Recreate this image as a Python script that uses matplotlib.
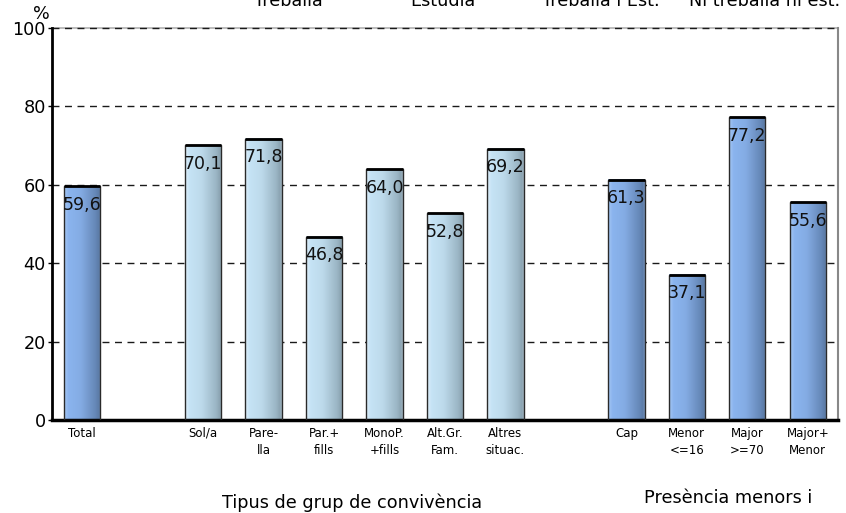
import numpy as np
import matplotlib.pyplot as plt
from matplotlib.colors import LinearSegmentedColormap

# categories and values
categories = ["Total", "Sol/a", "Pare-\nlla", "Par.+\nfills", "MonoP.\n+fills",
              "Alt.Gr.\nFam.", "Altres\nsituac.", "Cap", "Menor\n<=16",
              "Major\n>=70", "Major+\nMenor"]
groups = ["total", "conv", "conv", "conv", "conv", "conv", "conv",
          "menors", "menors", "menors", "menors"]
values = [59.6, 70.1, 71.8, 46.8, 64.0, 52.8, 69.2, 61.3, 37.1, 77.2, 55.6]

top_labels = ["Treballa", "Estudia", "Treballa i Est.", "Ni treballa ni est."]
group_titles = ["Tipus de grup de convivència", "Presència menors i"]
yticks = [0, 20, 40, 60, 80, 100]

# one empty slot between groups
positions = []
slot = 0
for i, grp in enumerate(groups):
    if i > 0 and grp != groups[i - 1]:
        slot += 1
    positions.append(slot)
    slot += 1

cmaps = {
    "blue": LinearSegmentedColormap.from_list(
        "blue", [(0.0, "#a9c9f3"), (0.12, "#8ab4ee"), (0.45, "#84ace4"),
                 (0.85, "#6688b8"), (0.95, "#5a7aa6"), (1.0, "#7f9cc4")]),
    "light": LinearSegmentedColormap.from_list(
        "light", [(0.0, "#e0f0fa"), (0.12, "#c5e3f5"), (0.45, "#bddaeb"),
                  (0.85, "#9ab5c4"), (0.95, "#8aa2b0"), (1.0, "#a8bcc8")]),
}
group_cmap = {"total": "blue", "conv": "light", "menors": "blue"}

fig = plt.figure(figsize=(8.46, 5.13), dpi=100)
ax = fig.add_axes([52 / 846, 93 / 513, 786 / 846, 392 / 513])

bars = ax.bar(positions, values, width=0.6, facecolor="none",
              edgecolor="#2a2a2a", linewidth=1, zorder=3)
grad = np.linspace(0, 1, 256).reshape(1, -1)
for bar, grp, val in zip(bars, groups, values):
    x0 = bar.get_x()
    x1 = x0 + bar.get_width()
    ax.imshow(grad, cmap=cmaps[group_cmap[grp]], extent=[x0, x1, 0, val],
              aspect="auto", interpolation="bicubic", zorder=2)
    ax.plot([x0, x1], [val, val], color="black", linewidth=2, zorder=4,
            solid_capstyle="butt")
    ax.annotate(f"{val:.1f}".replace(".", ","), (bar.get_x() + bar.get_width() / 2, val),
                xytext=(0, -7), textcoords="offset points", ha="center", va="top",
                fontsize=12.5, color="#111111", zorder=5)

ax.set_xlim(-0.5, max(positions) + 0.5)
ax.set_ylim(0, 100)
ax.set_yticks(yticks)
ax.set_xticks(positions)
ax.set_xticklabels(categories, fontsize=8.5, linespacing=1.45)
ax.tick_params(axis="y", labelsize=12.7, length=3, width=1, pad=1.5)
ax.tick_params(axis="x", length=0, pad=5)

# light solid line under the dashed top gridline
ax.axhline(100, color="#b0b0b0", linewidth=1.2, zorder=0.5, clip_on=False)
ax.yaxis.grid(True, linestyle=(0, (5, 4)), color="#1a1a1a", linewidth=1, zorder=1)
for gl in ax.get_ygridlines():
    gl.set_clip_on(False)
ax.set_axisbelow(True)

ax.spines["top"].set_visible(False)
ax.spines["right"].set_color("#888888")
ax.spines["right"].set_linewidth(1.5)
ax.spines["left"].set_linewidth(2)
ax.spines["bottom"].set_linewidth(2.5)

fig.text(41 / 846, 1 - 14 / 513, "%", ha="center", va="center", fontsize=12.7)

for label, xc in zip(top_labels, [288, 443, 601, 765]):
    fig.text(xc / 846, 1 - 6 / 513, label, ha="center", va="baseline", fontsize=12.7)

fig.text(352 / 846, 1 - 503 / 513, group_titles[0], ha="center", va="center", fontsize=12.7)
fig.text(728 / 846, 1 - 498 / 513, group_titles[1], ha="center", va="center", fontsize=12.7)

fig.savefig("out.png", dpi=100)
